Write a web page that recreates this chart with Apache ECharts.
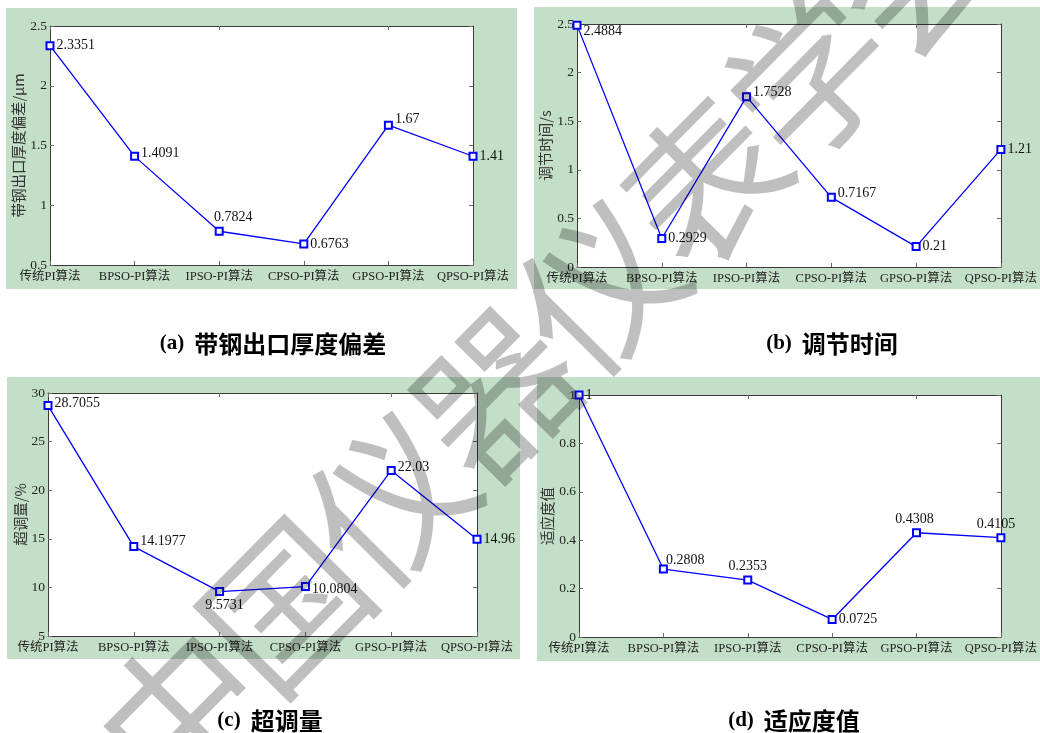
<!DOCTYPE html>
<html><head><meta charset="utf-8">
<script src="https://cdn.jsdelivr.net/npm/echarts@6/dist/echarts.min.js"></script>
<style>html,body{margin:0;padding:0;background:#fff}#c{width:1040px;height:733px}</style>
</head><body><div id="c"></div>
<script>
// ---- data ----
const categories = ['传统PI算法', 'BPSO-PI算法', 'IPSO-PI算法', 'CPSO-PI算法', 'GPSO-PI算法', 'QPSO-PI算法'];
const thicknessDeviation = [2.3351, 1.4091, 0.7824, 0.6763, 1.67, 1.41];
const settlingTime = [2.4884, 0.2929, 1.7528, 0.7167, 0.21, 1.21];
const overshoot = [28.7055, 14.1977, 9.5731, 10.0804, 22.03, 14.96];
const fitness = [1, 0.2808, 0.2353, 0.0725, 0.4308, 0.4105];
// y ranges: [min, max, interval]
const yRangeA = [0.5, 2.5, 0.5];
const yRangeB = [0, 2.5, 0.5];
const yRangeC = [5, 30, 5];
const yRangeD = [0, 1, 0.2];
const yNames = ['带钢出口厚度偏差/μm', '调节时间/s', '超调量/%', '适应度值'];
const panelTags = ['(a)', '(b)', '(c)', '(d)'];
const panelTitles = ['带钢出口厚度偏差', '调节时间', '超调量', '适应度值'];
const watermarkText = '中国仪器仪表学会';

// ---- styling / layout (not data) ----
const labelLayoutA = [['right',0,0],['right',0,-3],['top',14,0],['right',0,0],['right',0,-6],['right',0,0]];
const labelLayoutB = [['right',0,6],['right',0,0],['right',0,-4],['right',0,-4],['right',0,0],['right',0,0]];
const labelLayoutC = [['right',0,-2],['right',0,-5],['bottom',5,0],['right',0,3],['right',0,-3],['right',0,0]];
const labelLayoutD = [['right',0,0],['right',-4,-9],['top',0,0],['right',0,0],['top',-2,0],['top',-5,0]];

const panels = [
  {values: thicknessDeviation, range: yRangeA, labels: labelLayoutA, grid: {left: 50, top: 26, width: 423, height: 239}, bg: [6, 8, 511, 281], titleAt: [268, 327]},
  {values: settlingTime, range: yRangeB, labels: labelLayoutB, grid: {left: 577, top: 24, width: 426, height: 243}, bg: [534, 7, 506, 282], titleAt: [827, 327]},
  {values: overshoot, range: yRangeC, labels: labelLayoutC, grid: {left: 48, top: 393, width: 429, height: 243}, bg: [7, 377, 513, 282], titleAt: [265, 704]},
  {values: fitness, range: yRangeD, labels: labelLayoutD, grid: {left: 579, top: 395, width: 425, height: 242}, bg: [537, 377, 503, 284], titleAt: [789, 704]}
];

const SERIF = "'Liberation Serif','Times New Roman','Noto Sans CJK SC',serif";
const CJK = "'Noto Sans CJK SC','Noto Sans',sans-serif";
const BOX = '#3a3a3a';
const TICK = '#6a6a6a';

const grids = [], xAxes = [], yAxes = [], series = [], graphics = [], titles = [];

panels.forEach((p, i) => {
  grids.push(Object.assign({show: true, backgroundColor: '#ffffff', borderWidth: 0}, p.grid));
  graphics.push({type: 'rect', z: -10, silent: true,
    shape: {x: p.bg[0], y: p.bg[1], width: p.bg[2], height: p.bg[3]},
    style: {fill: '#c3dfc7'}});
  const xBase = {
    gridIndex: i, type: 'category', data: categories, boundaryGap: false,
    axisLine: {show: true, onZero: false, lineStyle: {color: BOX, width: 1}},
    axisTick: {show: true, inside: true, length: 4, alignWithLabel: true, lineStyle: {color: TICK}},
    splitLine: {show: false}
  };
  xAxes.push(Object.assign({}, xBase, {position: 'bottom',
    axisLabel: {show: true, interval: 0, fontFamily: SERIF, fontSize: 12.5, color: '#222', margin: 5, hideOverlap: false}}));
  xAxes.push(Object.assign({}, xBase, {position: 'top', axisLabel: {show: false}}));
  const yBase = {
    gridIndex: i, type: 'value', min: p.range[0], max: p.range[1], interval: p.range[2],
    axisLine: {show: true, onZero: false, lineStyle: {color: BOX, width: 1}},
    axisTick: {show: true, inside: true, length: 4, lineStyle: {color: TICK}},
    splitLine: {show: false}
  };
  yAxes.push(Object.assign({}, yBase, {position: 'left',
    axisLabel: {show: true, fontFamily: SERIF, fontSize: 13.5, color: '#222', margin: 3, showMinLabel: true, showMaxLabel: true},
    name: yNames[i], nameLocation: 'middle', nameGap: 18, nameRotate: 90,
    nameTextStyle: {fontFamily: CJK, fontSize: 14.5, color: '#333'}}));
  yAxes.push(Object.assign({}, yBase, {position: 'right', axisLabel: {show: false}}));
  series.push({
    type: 'line', xAxisIndex: 2 * i, yAxisIndex: 2 * i,
    data: p.values.map((v, k) => ({value: v, label: {position: p.labels[k][0], offset: [p.labels[k][1], p.labels[k][2]]}})),
    symbol: 'emptyRect', symbolSize: 7,
    lineStyle: {color: '#0000ff', width: 1.3},
    itemStyle: {color: '#0000ff', borderColor: '#0000ff', borderWidth: 1.2},
    label: {show: true, fontFamily: SERIF, fontSize: 14, color: '#111', distance: 2},
    emphasis: {disabled: true},
    animation: false, z: 3
  });
  titles.push({
    text: '{t|' + panelTags[i] + '}  {c|' + panelTitles[i] + '}',
    left: p.titleAt[0], top: p.titleAt[1], textAlign: 'center',
    textStyle: {rich: {
      t: {fontFamily: SERIF, fontWeight: 'bold', fontSize: 21, color: '#000'},
      c: {fontFamily: CJK, fontWeight: 'bold', fontSize: 24, color: '#000'}
    }}
  });
});

// watermark characters laid along a diagonal line
const wmStart = [180, 712], wmStep = [105, -106];
watermarkText.split('').forEach((ch, k) => {
  graphics.push({type: 'text', z: 100, silent: true,
    x: wmStart[0] + k * wmStep[0], y: wmStart[1] + k * wmStep[1],
    rotation: Math.atan2(-wmStep[1], wmStep[0]),
    style: {text: ch, font: 'normal 158px "Noto Sans CJK SC"', fill: 'rgba(0,0,0,0.25)',
      align: 'center', verticalAlign: 'middle', textAlign: 'center', textVerticalAlign: 'middle'}});
});

const chart = echarts.init(document.getElementById('c'), null, {renderer: 'canvas'});
chart.setOption({
  animation: false,
  backgroundColor: '#ffffff',
  title: titles,
  grid: grids,
  xAxis: xAxes,
  yAxis: yAxes,
  series: series,
  graphic: {elements: graphics}
});
</script>
</body></html>
